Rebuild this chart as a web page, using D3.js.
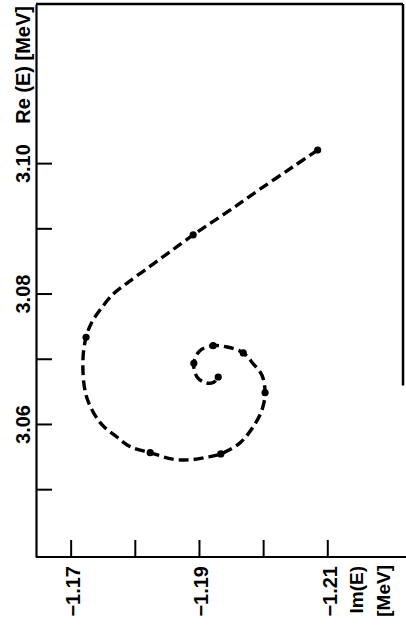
<!DOCTYPE html>
<html>
<head>
<meta charset="utf-8">
<script src="https://cdn.jsdelivr.net/npm/d3@7"></script>
<style>
  body { margin: 0; background: #fff; }
  text { font-family: "Liberation Sans", Arial, sans-serif; font-weight: bold; fill: #000; }
</style>
</head>
<body>
<div id="chart"></div>
<script>
// spiral trajectory of the pole, Im(E) and Re(E) in MeV
const pathIm = [-1.2085, -1.2046, -1.1995, -1.1953, -1.1912, -1.1891, -1.1859, -1.1824, -1.1788,
                -1.1766, -1.1746, -1.1733, -1.1724, -1.1719, -1.1725, -1.1746, -1.1772, -1.1793,
                -1.1824, -1.1859, -1.1886, -1.1912, -1.1934, -1.1964, -1.1984, -1.1998, -1.2003,
                -1.1998, -1.1984, -1.1969, -1.1944, -1.1922, -1.1901, -1.1892, -1.1897, -1.1911,
                -1.1923, -1.1930];
const pathRe = [3.1020, 3.0994, 3.0960, 3.0931, 3.0904, 3.0890, 3.0867, 3.0842, 3.0816,
                3.0799, 3.0775, 3.0756, 3.0733, 3.0693, 3.0641, 3.0602, 3.0580, 3.0565,
                3.0556, 3.0546, 3.0545, 3.0549, 3.0554, 3.0571, 3.0595, 3.0621, 3.0648,
                3.0675, 3.0693, 3.0709, 3.0718, 3.0720, 3.0712, 3.0693, 3.0672, 3.0663,
                3.0664, 3.0672];

// computed points marked with dots
const dotIm = [-1.2085, -1.1891, -1.1724, -1.1824, -1.1934, -1.2003, -1.1969, -1.1922, -1.1892, -1.1930];
const dotRe = [3.1020, 3.0890, 3.0733, 3.0556, 3.0554, 3.0648, 3.0709, 3.0720, 3.0693, 3.0672];

const xTicks = [-1.17, -1.18, -1.19, -1.20, -1.21];
const xLabels = ["\u22121.17", "", "\u22121.19", "", "\u22121.21"];
const yTicks = [3.05, 3.06, 3.07, 3.08, 3.09, 3.10];
const yLabels = ["", "3.06", "", "3.08", "", "3.10"];

const W = 406, H = 636;
const margin = {top: 4, right: 3, bottom: 79, left: 36};
const width = W - margin.left - margin.right,
      height = H - margin.top - margin.bottom;

const svg = d3.select("#chart")
    .append("svg")
    .attr("width", W)
    .attr("height", H)
    .append("g")
    .attr("transform", "translate(" + margin.left + "," + margin.top + ")");

const xScale = d3.scaleLinear().domain([-1.1646, -1.2218]).range([0, width]);
const yScale = d3.scaleLinear().domain([3.0396, 3.1244]).range([height, 0]);

// frame: top and right edges
svg.append("line").attr("x1", 0).attr("x2", width).attr("y1", 0).attr("y2", 0)
    .attr("stroke", "#000").attr("stroke-width", 2.5);
svg.append("line").attr("x1", width).attr("x2", width).attr("y1", 0).attr("y2", height * 0.69)
    .attr("stroke", "#000").attr("stroke-width", 2.5);

const yAxis = d3.axisLeft(yScale)
    .tickValues(yTicks)
    .tickFormat((d, i) => yLabels[i])
    .tickSizeInner(-16)
    .tickSizeOuter(0);
const xAxis = d3.axisBottom(xScale)
    .tickValues(xTicks)
    .tickFormat((d, i) => xLabels[i])
    .tickSizeInner(-17)
    .tickSizeOuter(0);

const drawY = svg.append("g").attr("class", "axis y-axis").call(yAxis);
const drawX = svg.append("g").attr("class", "axis x-axis")
    .attr("transform", `translate(0, ${height})`).call(xAxis);

[drawY, drawX].forEach(g => {
  g.select(".domain").attr("stroke", "#000").attr("stroke-width", 2.2);
  g.selectAll(".tick line").attr("stroke", "#000").attr("stroke-width", 2);
  g.selectAll(".tick text").attr("font-size", 20).attr("font-family", null);
});
// extend bottom axis line to the right edge of the picture
drawX.select(".domain").attr("d", `M0,0H${width + margin.right}`);

drawY.selectAll(".tick text")
    .attr("x", 0).attr("y", 0).attr("dy", "0.35em")
    .attr("text-anchor", "middle")
    .attr("transform", "translate(-13,0) rotate(-90)");

drawX.selectAll(".tick text")
    .attr("x", 0).attr("y", 0).attr("dy", "0.35em")
    .attr("text-anchor", "end")
    .attr("transform", "translate(2,9) rotate(-90)");

// axis titles
svg.append("text")
    .attr("class", "y-axis-title")
    .attr("font-size", 20)
    .attr("text-anchor", "end")
    .attr("dy", "0.35em")
    .attr("transform", "translate(-13,2) rotate(-90)")
    .text("Re (E) [MeV]");

svg.append("text")
    .attr("class", "x-axis-title")
    .attr("font-size", 19)
    .attr("text-anchor", "end")
    .attr("dy", "0.35em")
    .attr("transform", `translate(${xScale(-1.2146)},${height + 9}) rotate(-90)`)
    .text("Im(E)");
svg.append("text")
    .attr("class", "x-axis-title")
    .attr("font-size", 19)
    .attr("text-anchor", "end")
    .attr("dy", "0.35em")
    .attr("transform", `translate(${xScale(-1.2188)},${height + 8}) rotate(-90)`)
    .text("[MeV]");

// dashed spiral
const pts = pathIm.map((d, i) => [d, pathRe[i]]);
const line = d3.line()
    .x(d => xScale(d[0]))
    .y(d => yScale(d[1]))
    .curve(d3.curveCatmullRom.alpha(0.5));

svg.append("path")
    .datum(pts)
    .attr("fill", "none")
    .attr("stroke", "#000")
    .attr("stroke-width", 3.4)
    .attr("stroke-dasharray", "10,5")
    .attr("d", line);

svg.selectAll(".dot")
    .data(dotIm.map((d, i) => [d, dotRe[i]]))
    .enter()
    .append("circle")
    .attr("class", "dot")
    .attr("cx", d => xScale(d[0]))
    .attr("cy", d => yScale(d[1]))
    .attr("r", 3.6)
    .attr("fill", "#000");
</script>
</body>
</html>
